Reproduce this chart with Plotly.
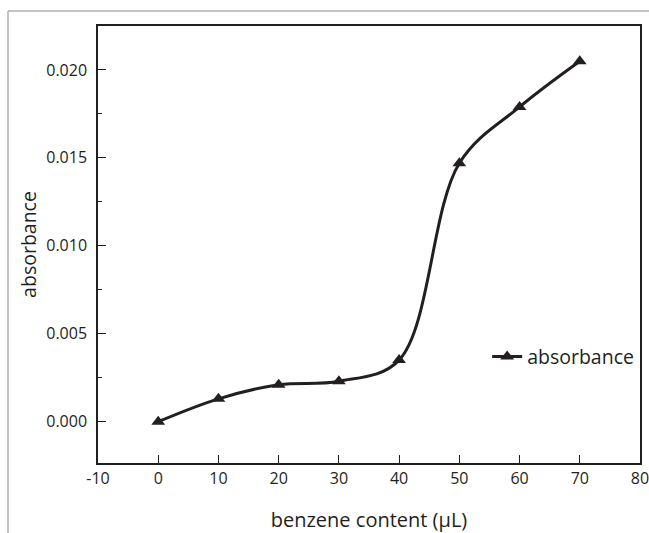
import plotly.graph_objects as go

benzene_content = [0, 10, 20, 30, 40, 50, 60, 70]
absorbance = [0.0000, 0.0013, 0.0021, 0.0023, 0.0035, 0.0147, 0.0179, 0.0205]
x_ticks = [-10, 0, 10, 20, 30, 40, 50, 60, 70, 80]
y_ticks = [0.000, 0.005, 0.010, 0.015, 0.020]

FONT = "Open Sans"
INK = "#231f20"

W, H = 649, 533
ML, MR, MT, MB = 98, 9, 26, 70
PW, PH = W - ML - MR, H - MT - MB

fig = go.Figure()
fig.add_trace(go.Scatter(
    x=benzene_content, y=absorbance, name="absorbance",
    mode="lines+markers",
    line=dict(color=INK, width=3, shape="spline", smoothing=1.0),
    marker=dict(symbol="triangle-up", size=12, color=INK),
))

top_y = 1 + (MT - 11) / PH
left_x = -(ML - 8) / PW
fig.update_layout(
    width=W, height=H,
    margin=dict(l=ML, r=MR, t=MT, b=MB, autoexpand=False),
    paper_bgcolor="white", plot_bgcolor="white",
    font=dict(family=FONT, color=INK, size=16),
    showlegend=True,
    legend=dict(x=0.718, y=0.243, xanchor="left", yanchor="middle",
                bgcolor="rgba(0,0,0,0)", font=dict(size=19.5, family=FONT, color=INK)),
    shapes=[
        dict(type="line", xref="paper", yref="paper",
             x0=left_x, x1=1.1, y0=top_y, y1=top_y,
             line=dict(color="#b0b0b0", width=1.5)),
        dict(type="line", xref="paper", yref="paper",
             x0=left_x, x1=left_x, y0=top_y, y1=-0.3,
             line=dict(color="#b0b0b0", width=1.5)),
    ],
)

fig.update_xaxes(
    range=[-10, 80], tickvals=x_ticks, ticktext=[str(v) for v in x_ticks],
    ticks="inside", ticklen=8, tickwidth=1.2, tickcolor=INK,
    showline=True, linecolor=INK, linewidth=1.5, mirror=True,
    showgrid=False, zeroline=False, automargin=False,
    ticklabeloverflow="allow",
    tickfont=dict(size=16, family=FONT, color=INK),
    title=dict(text="benzene content (\u03bcL)", font=dict(size=20, family=FONT, color=INK), standoff=26),
)
fig.update_yaxes(
    range=[-0.00235, 0.0225], tickvals=y_ticks, ticktext=[f"{v:.3f}" for v in y_ticks],
    ticks="inside", ticklen=8, tickwidth=1.2, tickcolor=INK,
    minor=dict(dtick=0.0025, ticks="inside", ticklen=4, tickwidth=1.2, tickcolor=INK, showgrid=False),
    showline=True, linecolor=INK, linewidth=1.5, mirror=True,
    showgrid=False, zeroline=False, automargin=False,
    ticklabeloverflow="allow",
    tickfont=dict(size=16, family=FONT, color=INK),
    ticklabelstandoff=6,
    title=dict(text="absorbance", font=dict(size=19.5, family=FONT, color=INK), standoff=4),
)

fig.write_html("out.html",
               config={"displayModeBar": False},
               post_script="document.body.style.margin='0';document.body.style.overflow='hidden';")
